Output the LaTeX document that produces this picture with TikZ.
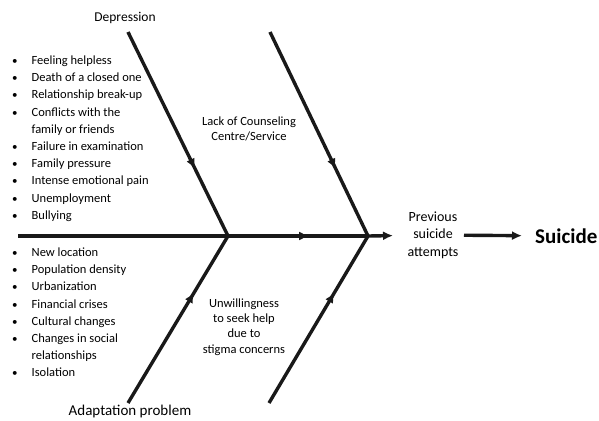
\documentclass[tikz,border=0pt]{standalone}
\usepackage{fontspec}
\setmainfont{Carlito}
\usetikzlibrary{arrows.meta,decorations.markings}
\newcommand{\dotitem}{{\fontsize{11}{11}\selectfont\textbullet}}
\begin{document}
\begin{tikzpicture}[x=1pt,y=-1pt,font=\fontsize{12.5}{17.2}\selectfont,
    bone/.style={line width=3.4pt,draw=black!90},
    tip/.style={-{Latex[length=10pt,width=9pt]}},
    midarrow/.style={postaction={decorate},decoration={markings,
        mark=at position #1 with {\arrow{Latex[length=10pt,width=9pt]}}}},
    causes/.style={anchor=base west,inner sep=0pt}]
  \useasboundingbox (0,0) rectangle (599,420);
  % fish bones
  \coordinate (tail) at (18,236);
  \coordinate (j1) at (228,236);
  \coordinate (j2) at (368,236);
  \coordinate (dep) at (128,32);
  \coordinate (lack) at (270,32);
  \coordinate (adapt) at (128,403);
  \coordinate (unw) at (269,403);
  \node[align=center,font=\fontsize{14}{17.5}\selectfont] (prev) at (433,235) {Previous\\suicide\\attempts};
  \node[anchor=west,inner sep=0pt,font=\fontsize{21}{24}\selectfont\bfseries] (suicide) at (535,236) {Suicide};
  \draw[bone] (tail) -- (j1);
  \draw[bone,midarrow=0.58] (j1) -- (j2);
  \draw[bone,tip,shorten >=11pt] (j2) -- (prev);
  \draw[bone,tip,shorten <=2pt,shorten >=13pt] (prev) -- (suicide);
  \draw[bone,midarrow=0.67] (dep) -- (j1);
  \draw[bone,midarrow=0.67] (lack) -- (j2);
  \draw[bone,midarrow=0.66] (adapt) -- (j1);
  \draw[bone,midarrow=0.66] (unw) -- (j2);
  % labels
  \node[font=\fontsize{13.5}{16}\selectfont] (deplabel) at (125,18) {Depression};
  \node[font=\fontsize{15}{18}\selectfont] (adaptlabel) at (130,411) {Adaptation problem};
  \node[align=center,font=\fontsize{12.5}{15.2}\selectfont] (lacklabel) at (249,129) {Lack of Counseling\\Centre/Service};
  \node[align=center,font=\fontsize{12.5}{15.4}\selectfont] (unwlabel) at (244,327) {Unwillingness\\to seek help\\due to\\stigma concerns};
  % causes
  \node[causes] (deplist) at (12,64.5) {\begin{tabular}[t]{@{}l@{\hspace{14pt}}l@{}}
    \dotitem & Feeling helpless\\
    \dotitem & Death of a closed one\\
    \dotitem & Relationship break-up\\
    \dotitem & Conflicts with the\\
             & family or friends\\
    \dotitem & Failure in examination\\
    \dotitem & Family pressure\\
    \dotitem & Intense emotional pain\\
    \dotitem & Unemployment\\
    \dotitem & Bullying
  \end{tabular}};
  \node[causes] (adaptlist) at (12,256.5) {\begin{tabular}[t]{@{}l@{\hspace{14pt}}l@{}}
    \dotitem & New location\\
    \dotitem & Population density\\
    \dotitem & Urbanization\\
    \dotitem & Financial crises\\
    \dotitem & Cultural changes\\
    \dotitem & Changes in social\\
             & relationships\\
    \dotitem & Isolation
  \end{tabular}};
\end{tikzpicture}
\end{document}
